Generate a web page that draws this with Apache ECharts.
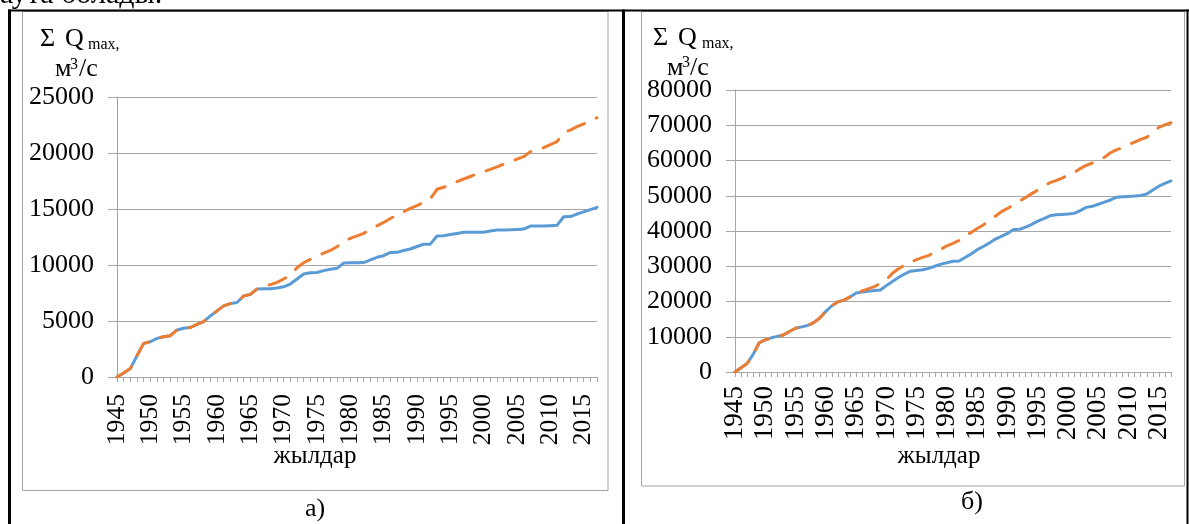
<!DOCTYPE html>
<html><head><meta charset="utf-8">
<script src="https://cdn.jsdelivr.net/npm/echarts@6/dist/echarts.min.js"></script>
<style>html,body{margin:0;padding:0;background:#fff}#c{width:1189px;height:524px}</style>
</head><body><div id="c"></div>
<script>
const years = ['1945','1946','1947','1948','1949','1950','1951','1952','1953','1954','1955','1956','1957','1958','1959','1960','1961','1962','1963','1964','1965','1966','1967','1968','1969','1970','1971','1972','1973','1974','1975','1976','1977','1978','1979','1980','1981','1982','1983','1984','1985','1986','1987','1988','1989','1990','1991','1992','1993','1994','1995','1996','1997','1998','1999','2000','2001','2002','2003','2004','2005','2006','2007','2008','2009','2010','2011','2012','2013','2014','2015','2016','2017'];

const leftObserved = [0,350,750,1900,3000,3150,3450,3600,3690,4200,
4350,4420,4700,4950,5450,5900,6350,6550,6650,7230,
7380,7860,7870,7880,7950,8050,8300,8750,9200,9300,
9330,9500,9620,9700,10170,10190,10200,10220,10450,10690,
10830,11120,11130,11300,11430,11650,11850,11860,12590,12620,
12720,12820,12920,12920,12920,12930,13030,13130,13130,13140,
13170,13210,13480,13480,13490,13510,13540,14310,14320,14550,
14750,14950,15150];

const leftTrend = [0,350,750,1900,3000,3150,3450,3600,3690,4200,
4350,4420,4700,4950,5450,5900,6350,6550,6650,7230,
7380,7860,8050,8250,8450,8750,9100,9750,10200,10500,
10780,11050,11300,11630,12100,12380,12600,12830,13150,13500,
13800,14150,14460,14750,15050,15300,15600,15890,16760,16940,
17200,17440,17680,17900,18130,18330,18540,18770,19000,19220,
19450,19670,20120,20300,20470,20740,21010,21810,22050,22350,
22600,22900,23150];

const rightObserved = [0,1200,2400,5000,8300,9100,9700,10100,10500,11500,
12400,12800,13200,14000,15300,17200,18800,19900,20400,21300,
22400,22700,22900,23100,23250,24500,25700,26800,27800,28600,
28800,29000,29400,30000,30600,31000,31400,31500,32500,33500,
34700,35600,36600,37700,38500,39300,40400,40500,41100,41900,
42800,43500,44300,44600,44700,44800,45000,45800,46700,47000,
47600,48200,48800,49600,49700,49800,49900,50100,50500,51600,
52700,53500,54200];

const rightTrend = [0,1200,2400,5000,8300,9100,9700,10100,10500,11500,
12400,12800,13200,14000,15300,17200,18800,19900,20400,21300,
22400,23000,23600,24200,25200,26200,28000,29300,30300,31200,
31900,32500,33100,34000,34800,35800,36500,37300,38600,39600,
40700,41700,43000,44200,45500,46400,47400,48500,49500,50600,
51600,52800,53700,54300,55000,55800,56600,57700,58600,59300,
60100,60900,62200,63000,63700,64500,65200,66000,66600,68000,
69400,70100,70700];

const leftYMax = 25000, leftYStep = 5000;
const rightYMax = 80000, rightYStep = 10000;

const FONT = "'Liberation Serif','Times New Roman',serif";
const GRAY = '#a6a6a6';
const BLUE = '#5B9BD5';
const ORANGE = '#ED7D31';

// year-label sizing: font size, gap from axis, and the ink extent seen in the reference
const labelCfg = [
  {fs: 24, margin: 17, targetLen: 48, targetTop: 395},
  {fs: 25, margin: 14, targetLen: 50, targetTop: 387}
];

function xAx(gridIndex) {
  const c = labelCfg[gridIndex];
  return {
    type: 'category', gridIndex, data: years, boundaryGap: false,
    axisLine: {show: true, lineStyle: {color: GRAY, width: 1}},
    axisTick: {show: true, interval: 0, length: 5, lineStyle: {color: GRAY}},
    axisLabel: {interval: 4, rotate: 90, margin: c.margin, color: '#000', fontFamily: FONT, fontSize: c.fs, hideOverlap: false},
    splitLine: {show: false}
  };
}
function yAx(gridIndex, max, step) {
  return {
    type: 'value', gridIndex, min: 0, max, interval: step,
    axisLine: {show: true, lineStyle: {color: GRAY, width: 1}},
    axisTick: {show: true, length: 9, lineStyle: {color: GRAY}},
    axisLabel: {margin: 23, color: '#000', fontFamily: FONT, fontSize: 26, formatter: v => String(v)},
    splitLine: {show: true, lineStyle: {color: GRAY, width: 1}}
  };
}
function ln(data, xi, color, dashed) {
  return {
    type: 'line', xAxisIndex: xi, yAxisIndex: xi, data, symbol: 'none', smooth: false,
    lineStyle: dashed ? {color, width: 3, type: [18, 13], cap: 'round', join: 'round'}
                      : {color, width: 3, cap: 'round', join: 'round'},
    z: dashed ? 3 : 2, silent: true
  };
}
function txt(x, y, s, fs, align) {
  return {type: 'text', x, y, silent: true, style: {text: s, fontFamily: FONT, fontSize: fs, fill: '#000', align: align || 'left', verticalAlign: 'middle'}};
}
function vline(x, y1, y2, color, w) {
  return {type: 'line', silent: true, shape: {x1: x, y1, x2: x, y2}, style: {stroke: color, lineWidth: w}};
}

const chart = echarts.init(document.getElementById('c'), null, {renderer: 'canvas'});
chart.setOption({
  backgroundColor: '#fff',
  animation: false,
  grid: [
    {left: 117, top: 97, right: 592, bottom: 147, outerBoundsMode: 'none'},
    {left: 735, top: 90, right: 18, bottom: 152, outerBoundsMode: 'none'}
  ],
  xAxis: [xAx(0), xAx(1)],
  yAxis: [yAx(0, leftYMax, leftYStep), yAx(1, rightYMax, rightYStep)],
  series: [
    ln(leftObserved, 0, BLUE, false),
    ln(leftTrend, 0, ORANGE, true),
    ln(rightObserved, 1, BLUE, false),
    ln(rightTrend, 1, ORANGE, true)
  ],
  graphic: [
    {type: 'rect', silent: true, shape: {x: 22.5, y: 11.5, width: 585.5, height: 479}, style: {fill: 'transparent', stroke: GRAY, lineWidth: 1}},
    {type: 'rect', silent: true, shape: {x: 641.5, y: 11.5, width: 543, height: 474.5}, style: {fill: 'transparent', stroke: GRAY, lineWidth: 1}},
    {type: 'line', silent: true, shape: {x1: 8, y1: 10.5, x2: 1189, y2: 10.5}, style: {stroke: '#000', lineWidth: 2}},
    vline(9.5, 9.5, 524, '#000', 3),
    vline(623.5, 9.5, 524, '#000', 3),
    vline(1187.5, 9.5, 524, '#000', 2),
    txt(0, -5, 'аута болады.', 30),
    txt(40, 39, 'Σ', 26), txt(65, 39, 'Q', 26), txt(88, 44.5, 'max,', 16),
    txt(55, 69, 'м', 26), txt(70, 64.5, '3', 16), txt(79, 69, '/с', 26),
    txt(653, 38, 'Σ', 26), txt(678, 38, 'Q', 26), txt(702, 43.5, 'max,', 16),
    txt(667, 68, 'м', 26), txt(682, 62.5, '3', 16), txt(690, 68, '/с', 26),
    txt(315, 456, 'жылдар', 25, 'center'),
    txt(939, 456, 'жылдар', 25, 'center'),
    txt(315, 509, 'а)', 26, 'center'),
    txt(972, 502, 'б)', 26, 'center')
  ]
});

// check the drawn ink of one year label and tune its size/gap to the reference
function applyLabels() {
  chart.setOption({xAxis: labelCfg.map(c => ({axisLabel: {fontSize: c.fs, margin: c.margin}}))});
  const zr = chart.getZr();
  if (zr && zr.refreshImmediately) zr.refreshImmediately();
}
function measure(k) {
  const cv = chart.getDom().querySelector('canvas');
  if (!cv) return null;
  const ctx = cv.getContext('2d');
  const px = Math.round(chart.convertToPixel({xAxisIndex: k}, 10));
  const ay = Math.round(chart.convertToPixel({yAxisIndex: k}, 0));
  const x0 = px - 11, y0 = ay + 7, w = 23, h = 74;
  let d;
  try { d = ctx.getImageData(x0, y0, w, h).data; } catch (e) { return null; }
  let minY = Infinity, maxY = -Infinity;
  for (let yy = 0; yy < h; yy++) {
    for (let xx = 0; xx < w; xx++) {
      const i = (yy * w + xx) * 4;
      if (d[i + 3] > 128 && d[i] + d[i + 1] + d[i + 2] < 330) {
        if (yy < minY) minY = yy;
        if (yy > maxY) maxY = yy;
      }
    }
  }
  if (!isFinite(minY)) return null;
  return {top: y0 + minY, len: maxY - minY + 1};
}
try {
  const zr = chart.getZr();
  if (zr && zr.refreshImmediately) zr.refreshImmediately();
  for (let it = 0; it < 5; it++) {
    let changed = false;
    [0, 1].forEach(k => {
      const m = measure(k);
      if (!m) return;
      const c = labelCfg[k];
      if (Math.abs(m.len - c.targetLen) > 2) {
        c.fs = Math.max(12, Math.min(48, c.fs * c.targetLen / m.len));
        changed = true;
      } else if (Math.abs(m.top - c.targetTop) > 1) {
        c.margin = Math.max(0, Math.min(40, c.margin + (c.targetTop - m.top)));
        changed = true;
      }
    });
    if (!changed) break;
    applyLabels();
  }
} catch (e) {}
</script></body></html>
